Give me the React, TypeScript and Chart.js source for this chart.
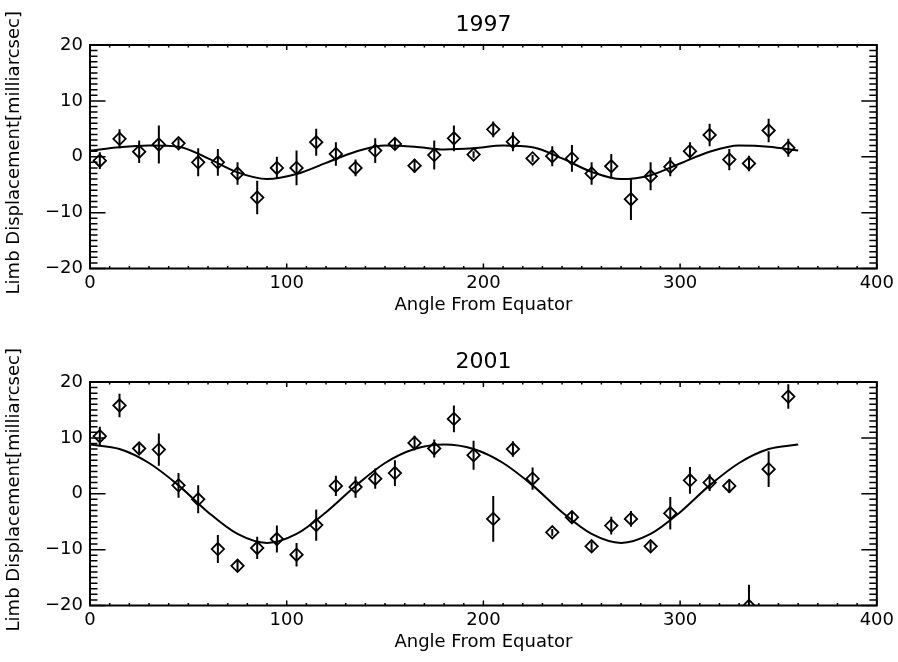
import React, { useEffect, useRef } from "react";
import { Chart, registerables } from "chart.js";

Chart.register(...registerables);

// ---- data ----
const angles = [5, 15, 25, 35, 45, 55, 65, 75, 85, 95, 105, 115, 125, 135, 145, 155, 165, 175, 185, 195, 205, 215, 225, 235, 245, 255, 265, 275, 285, 295, 305, 315, 325, 335, 345, 355];

const disp1997 = [-0.7, 3.2, 0.9, 2.2, 2.4, -1.0, -1.0, -3.0, -7.3, -2.0, -2.0, 2.6, 0.5, -2.0, 1.1, 2.3, -1.6, 0.3, 3.3, 0.4, 4.9, 2.7, -0.3, 0.1, -0.3, -3.0, -1.7, -7.6, -3.5, -1.8, 1.0, 3.9, -0.5, -1.2, 4.7, 1.6];
const err1997 = [1.5, 1.7, 2.0, 3.4, 0.8, 2.5, 2.4, 2.0, 3.0, 2.0, 3.1, 2.4, 2.1, 1.5, 2.2, 0.9, 1.2, 2.6, 2.3, 0.6, 1.4, 1.7, 0.6, 1.8, 2.4, 2.0, 2.2, 3.7, 2.5, 1.7, 1.6, 2.0, 1.9, 1.4, 2.1, 1.6];

const disp2001 = [10.3, 15.8, 8.1, 7.9, 1.5, -1.0, -9.9, -12.9, -9.7, -8.1, -10.9, -5.6, 1.4, 1.2, 2.7, 3.7, 9.1, 8.1, 13.4, 6.9, -4.5, 8.0, 2.7, -6.9, -4.2, -9.4, -5.7, -4.5, -9.4, -3.5, 2.4, 2.0, 1.4, -20.1, 4.4, 17.4];
const err2001 = [1.7, 2.1, 0.8, 2.9, 2.2, 2.5, 2.5, 1.0, 2.0, 2.4, 2.1, 2.8, 1.8, 1.9, 1.8, 2.3, 1.3, 1.6, 2.4, 2.6, 4.1, 1.4, 2.0, 0.6, 1.0, 0.8, 1.6, 1.4, 0.8, 2.9, 2.4, 1.5, 1.2, 3.8, 3.2, 2.2];

const fitAngles = [0, 15, 30, 45, 60, 75, 90, 105, 120, 135, 150, 165, 180, 195, 210, 225, 240, 255, 270, 285, 300, 315, 330, 345, 360];
const fit1997 = [1.1, 1.7, 2.0, 1.8, -0.3, -2.8, -4.0, -3.1, -1.1, 0.9, 2.0, 1.8, 1.3, 1.5, 2.0, 1.7, -0.3, -2.7, -4.0, -3.3, -1.2, 0.9, 2.0, 1.8, 1.1];
const fit2001 = [8.8, 8.0, 5.5, 1.5, -3.3, -7.2, -8.8, -7.2, -3.3, 1.4, 5.5, 8.0, 8.8, 8.0, 5.5, 1.5, -3.3, -7.2, -8.8, -7.2, -3.3, 1.5, 5.5, 8.0, 8.8];

const xTickValues = [0, 100, 200, 300, 400];
const yTickValues = [-20, -10, 0, 10, 20];

const FONT = "'DejaVu Sans', sans-serif";
const PLOT_TOP = 45;
const PLOT_BOTTOM = 268.5;
const PLOT_LEFT = 90;
const PLOT_RIGHT = 878;

function idlPlugin(title: string, vals: number[], errs: number[]) {
  return {
    id: "idl" + title,
    beforeDatasetsDraw(chart: any) {
      const { ctx, chartArea: a } = chart;
      const x = chart.scales.x;
      const y = chart.scales.y;
      ctx.save();
      ctx.beginPath();
      ctx.rect(a.left, a.top, a.right - a.left, a.bottom - a.top);
      ctx.clip();
      ctx.strokeStyle = "#000";
      ctx.lineWidth = 2;
      ctx.beginPath();
      angles.forEach((ang, i) => {
        const px = x.getPixelForValue(ang);
        ctx.moveTo(px, y.getPixelForValue(vals[i] - errs[i]));
        ctx.lineTo(px, y.getPixelForValue(vals[i] + errs[i]));
      });
      ctx.stroke();
      ctx.restore();
    },
    afterDraw(chart: any) {
      const { ctx, chartArea: a } = chart;
      const x = chart.scales.x;
      const y = chart.scales.y;
      ctx.save();
      ctx.strokeStyle = "#000";
      ctx.lineWidth = 2;
      ctx.strokeRect(a.left, a.top, a.right - a.left, a.bottom - a.top);
      ctx.lineWidth = 1.5;
      ctx.beginPath();
      for (let v = 0; v <= 400; v += 10) {
        const px = x.getPixelForValue(v);
        const len = v % 100 === 0 ? 5 : 2.5;
        ctx.moveTo(px, a.bottom);
        ctx.lineTo(px, a.bottom - len);
        ctx.moveTo(px, a.top);
        ctx.lineTo(px, a.top + len);
      }
      for (let v = -20; v <= 20; v += 1) {
        const py = y.getPixelForValue(v);
        const len = v % 10 === 0 ? 15.5 : 7.5;
        ctx.moveTo(a.left, py);
        ctx.lineTo(a.left + len, py);
        ctx.moveTo(a.right, py);
        ctx.lineTo(a.right - len, py);
      }
      ctx.stroke();
      ctx.fillStyle = "#000";
      ctx.textAlign = "center";
      ctx.textBaseline = "middle";
      const cx = (a.left + a.right) / 2;
      ctx.font = `22px ${FONT}`;
      ctx.fillText(title, cx, a.top - 20);
      ctx.font = `18px ${FONT}`;
      ctx.fillText("Angle From Equator", cx, a.bottom + 37);
      ctx.translate(14, (a.top + a.bottom) / 2 - 4);
      ctx.rotate(-Math.PI / 2);
      ctx.fillText("Limb Displacement[milliarcsec]", 0, 0);
      ctx.restore();
    },
  };
}

function Panel(props: { title: string; vals: number[]; errs: number[]; fit: number[]; height: number; top: number }) {
  const ref = useRef<HTMLCanvasElement | null>(null);
  useEffect(() => {
    const canvas = ref.current;
    if (!canvas) return;
    const H = props.height;
    const chart = new Chart(canvas, {
      type: "scatter",
      data: {
        datasets: [
          {
            type: "line",
            data: fitAngles.map((a, i) => ({ x: a, y: props.fit[i] })),
            borderColor: "#000",
            borderWidth: 2,
            pointRadius: 0,
            cubicInterpolationMode: "monotone",
            fill: false,
          } as any,
          {
            type: "scatter",
            data: angles.map((a, i) => ({ x: a, y: props.vals[i] })),
            pointStyle: "rectRot",
            pointRadius: 6.2,
            pointBorderWidth: 1.8,
            pointBorderColor: "#000",
            pointBackgroundColor: "rgba(0,0,0,0)",
            showLine: false,
            clip: 0,
          } as any,
        ],
      },
      options: {
        animation: false,
        responsive: false,
        maintainAspectRatio: false,
        layout: { padding: { top: PLOT_TOP, left: 0, right: 898 - PLOT_RIGHT, bottom: 0 } },
        plugins: { legend: { display: false }, tooltip: { enabled: false }, title: { display: false } },
        scales: {
          x: {
            type: "linear",
            min: 0,
            max: 400,
            afterBuildTicks: (s: any) => {
              s.ticks = xTickValues.map((v) => ({ value: v }));
            },
            afterFit: (s: any) => {
              s.height = H - PLOT_BOTTOM;
            },
            grid: { display: false, drawTicks: false },
            border: { display: false },
            ticks: { color: "#000", font: { family: FONT, size: 18 }, padding: 4, maxRotation: 0 },
          },
          y: {
            type: "linear",
            min: -20,
            max: 20,
            afterBuildTicks: (s: any) => {
              s.ticks = yTickValues.map((v) => ({ value: v }));
            },
            afterFit: (s: any) => {
              s.width = PLOT_LEFT;
            },
            grid: { display: false, drawTicks: false },
            border: { display: false },
            ticks: {
              color: "#000",
              font: { family: FONT, size: 18 },
              padding: 7,
              callback: (v: any) => String(v).replace("-", "\u2212"),
            },
          },
        },
      },
      plugins: [idlPlugin(props.title, props.vals, props.errs)],
    } as any);
    return () => chart.destroy();
  }, []);
  return (
    <canvas
      ref={ref}
      width={898}
      height={props.height}
      style={{ position: "absolute", left: 0, top: props.top, width: 898, height: props.height }}
    />
  );
}

export default function App() {
  return (
    <div style={{ position: "absolute", left: 0, top: 0, width: 898, height: 662, background: "#fff" }}>
      <Panel title="1997" vals={disp1997} errs={err1997} fit={fit1997} height={337} top={0} />
      <Panel title="2001" vals={disp2001} errs={err2001} fit={fit2001} height={325} top={337} />
    </div>
  );
}
